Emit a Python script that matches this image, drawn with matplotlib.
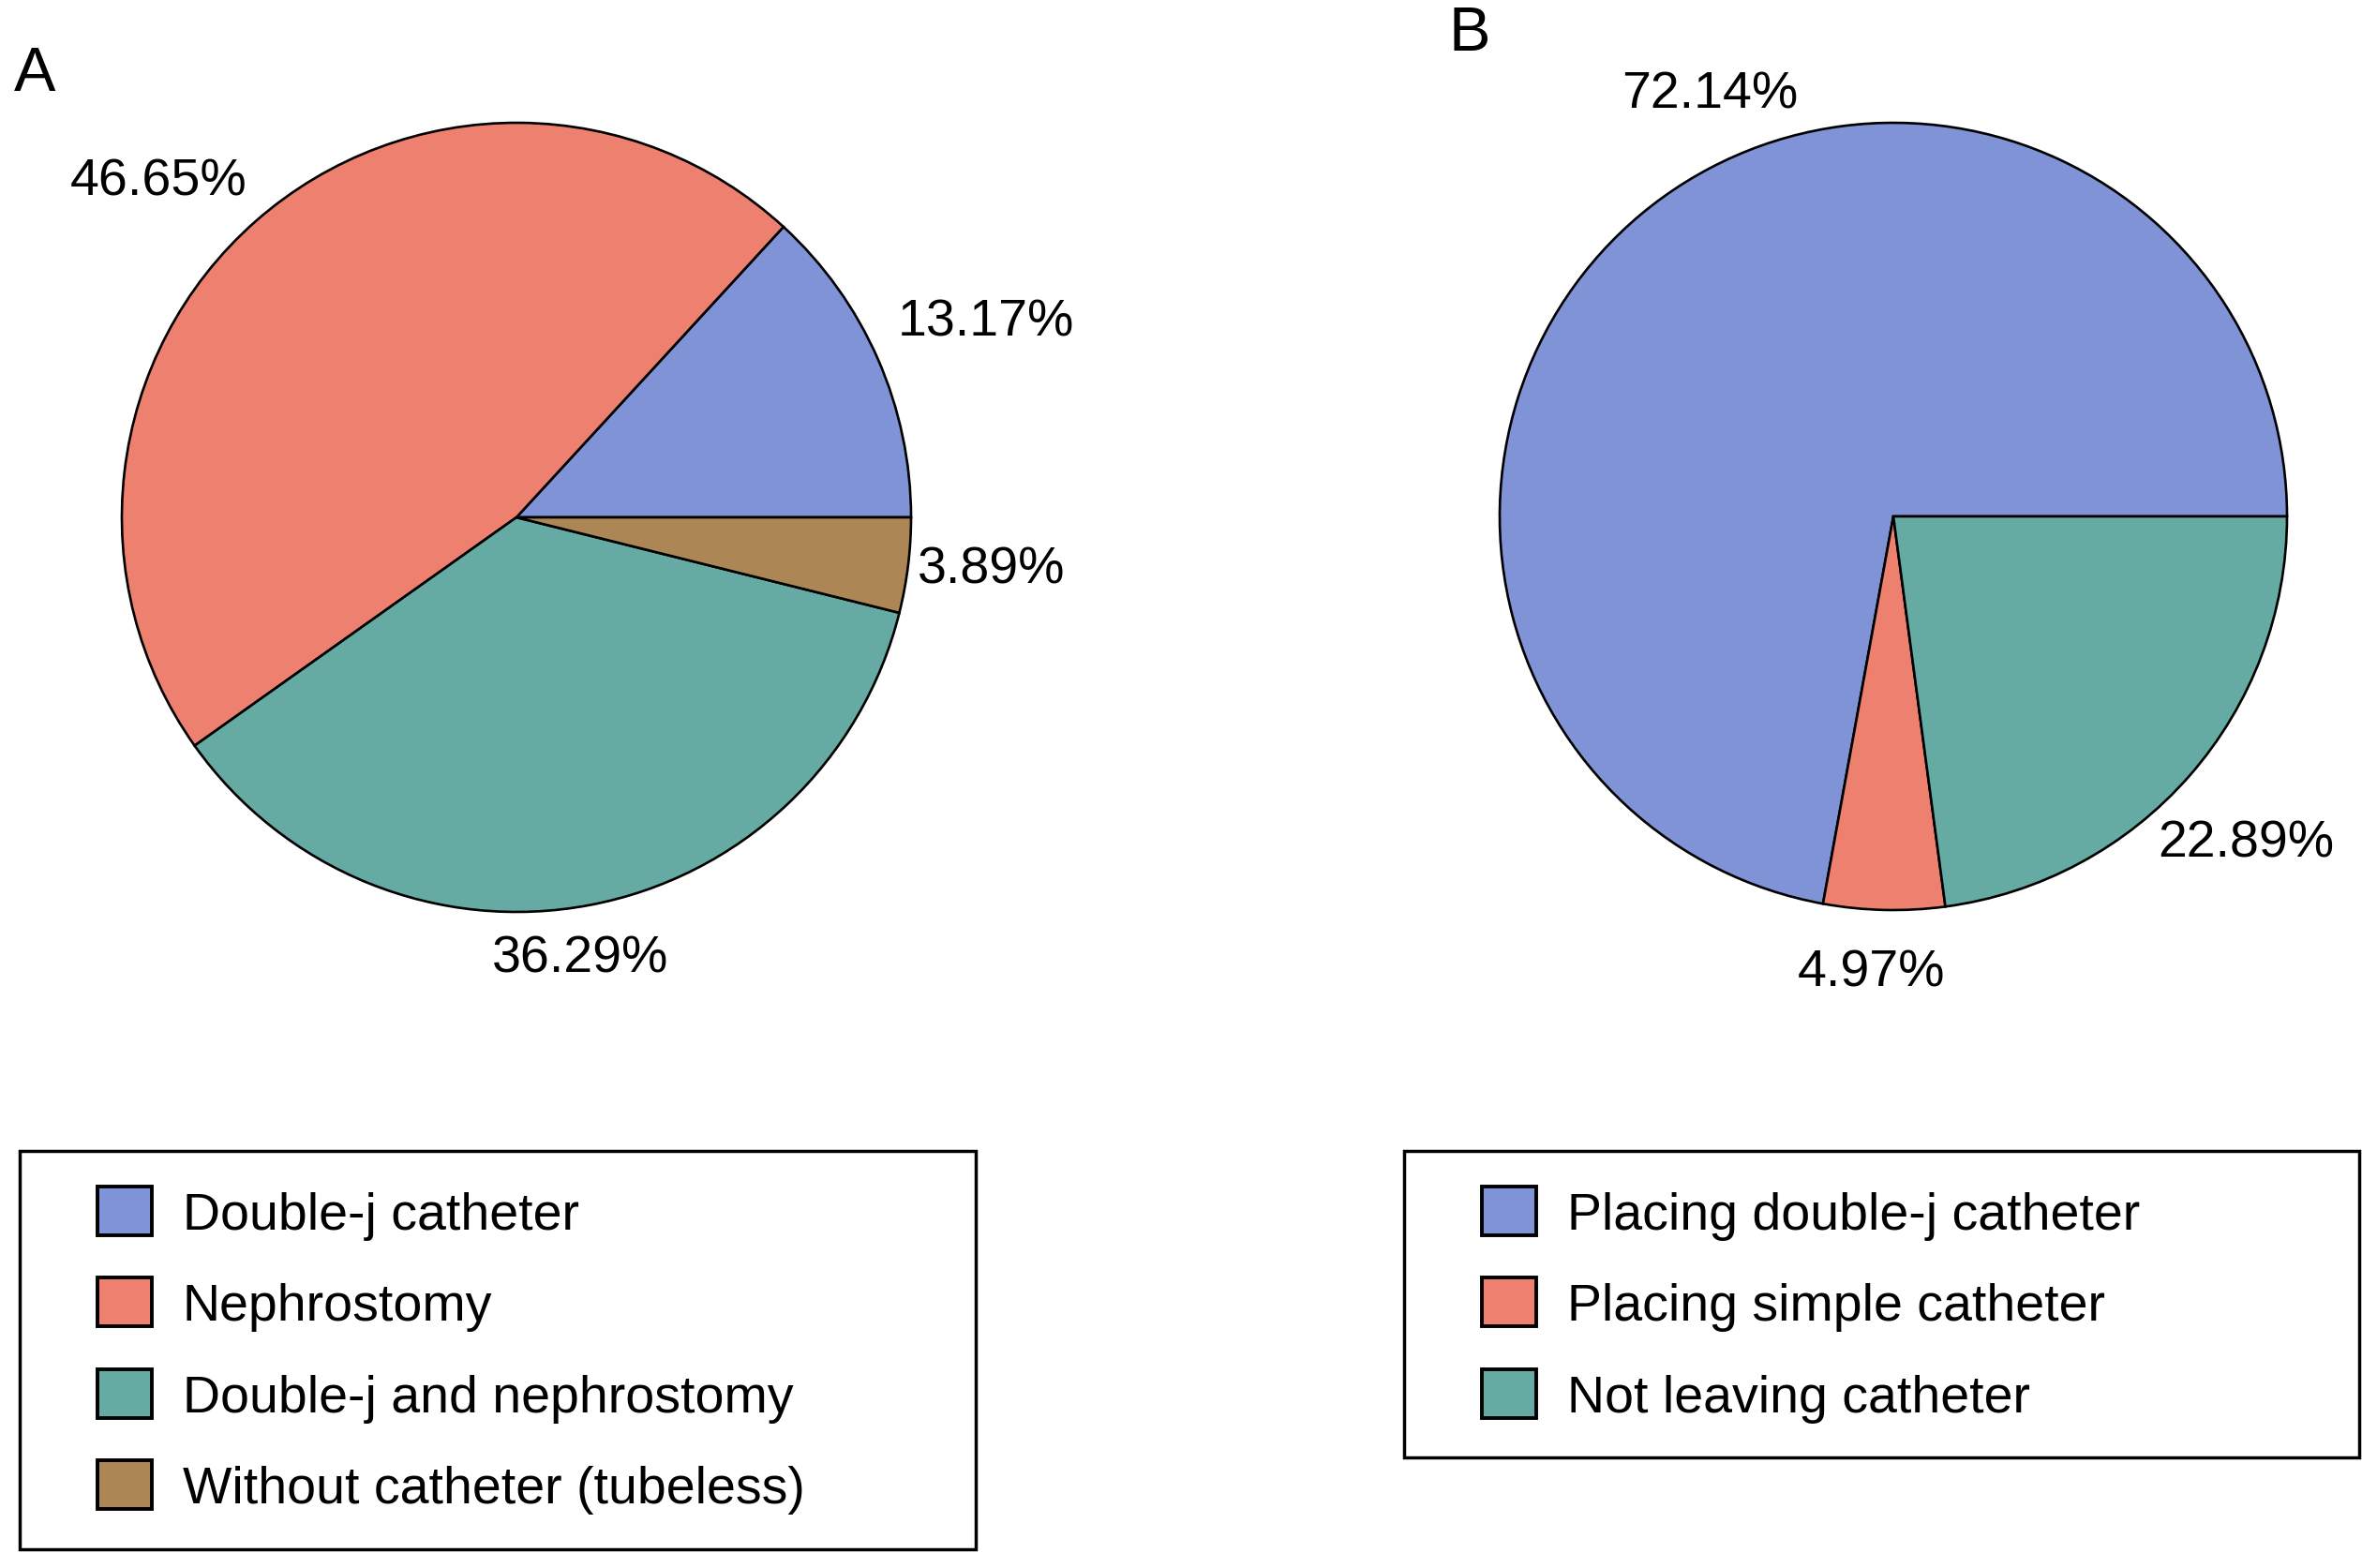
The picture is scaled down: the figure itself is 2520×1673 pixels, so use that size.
import numpy as np
import matplotlib.pyplot as plt
from matplotlib.patches import Rectangle
from matplotlib.legend_handler import HandlerPatch

plt.rcParams['font.family'] = ['Liberation Sans', 'DejaVu Sans']

# Panel A : catheter used
labels_a = ["Double-j catheter", "Nephrostomy", "Double-j and nephrostomy",
            "Without catheter (tubeless)"]
values_a = [13.17, 46.65, 36.29, 3.89]

# Panel B : catheter choice
labels_b = ["Placing double-j catheter", "Placing simple catheter", "Not leaving catheter"]
values_b = [72.14, 4.97, 22.89]

colors_a = ["#7F93D6", "#EE8070", "#66ABA3", "#AD8656"]
colors_b = ["#7F93D6", "#EE8070", "#66ABA3"]

# where the percent labels sit (angle in degrees, distance in radius units)
lab_ang_a = [22.6, 136.8, 278.2, 353.7]
lab_dist_a = [1.29, 1.245, 1.13, 1.21]
lab_ang_b = [113.5, 267.2, 317.2]
lab_dist_b = [1.17, 1.16, 1.22]

W, H = 2520, 1674
fig = plt.figure(figsize=(W / 100, H / 100), dpi=100)


def pie_panel(cx, cy, r, values, colors, ang, dist):
    # cx, cy, r in pixels of the final picture
    ax = fig.add_axes([(cx - r) / W, 1 - (cy + r) / H, 2 * r / W, 2 * r / H])
    wedges, txts = ax.pie(values, colors=colors, startangle=0, counterclock=True,
                          labels=["{:.2f}%".format(v) for v in values],
                          wedgeprops=dict(edgecolor="black", linewidth=1.9),
                          textprops=dict(fontsize=40))
    for t, a, d in zip(txts, ang, dist):
        t.set_position((d * np.cos(np.radians(a)), d * np.sin(np.radians(a))))
        t.set_ha("center")
        t.set_va("center")
    for w in wedges:
        w.set_clip_on(False)
    ax.set_xlim(-1, 1)
    ax.set_ylim(-1, 1)
    ax.set_aspect("equal")
    return ax


pie_panel(551, 553, 421, values_a, colors_a, lab_ang_a, lab_dist_a)
pie_panel(2020, 552, 420, values_b, colors_b, lab_ang_b, lab_dist_b)


def square_patch(legend, orig_handle, xdescent, ydescent, width, height, fontsize):
    w = 1.04 * fontsize
    return Rectangle((-xdescent + width - w, -ydescent), w, height)


def make_legend(labels, colors, x0, x1, y0, y1):
    handles = [Rectangle((0, 0), 1, 1, facecolor=c, edgecolor="black", linewidth=2.8)
               for c in colors]
    leg = fig.legend(handles, labels, loc="upper left",
                     bbox_to_anchor=(x0 / W, 1 - y1 / H, (x1 - x0) / W, (y1 - y0) / H),
                     mode="expand", fontsize=40, frameon=True, fancybox=False,
                     edgecolor="black", framealpha=1, borderpad=0.68, borderaxespad=0,
                     handlelength=1.86, handleheight=1.06, handletextpad=0.59,
                     labelspacing=0.73,
                     handler_map={Rectangle: HandlerPatch(patch_func=square_patch)})
    leg.get_frame().set_linewidth(2.5)
    return leg


make_legend(labels_a, colors_a, 21, 1041, 1229, 1671)
make_legend(labels_b, colors_b, 1498, 2517, 1229, 1556)

fig.text(37 / W, 1 - 80 / H, "A", fontsize=48, ha="center", va="center")
fig.text(1568 / W, 1 - 37 / H, "B", fontsize=48, ha="center", va="center")

fig.savefig("out.png", dpi=100)
